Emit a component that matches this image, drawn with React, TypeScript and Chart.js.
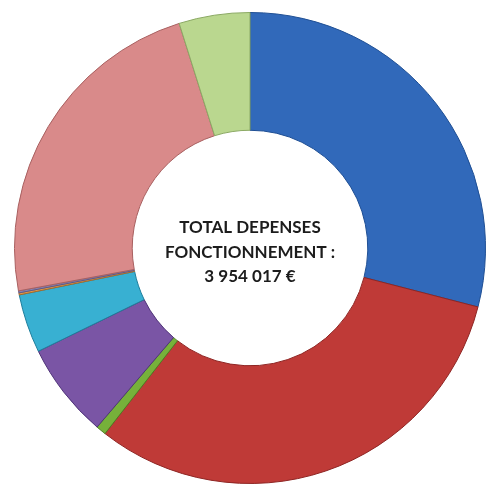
import React, { useEffect, useRef } from "react";
import { Chart, registerables } from "chart.js";

Chart.register(...registerables);

const categories = [
  "Charges de personnel",
  "Charges à caractère général",
  "Atténuations de produits",
  "Autres charges de gestion courante",
  "Charges financières",
  "Charges exceptionnelles",
  "Provisions",
  "Virement à la section d'investissement",
  "Dotations aux amortissements",
];
const values = [1147763, 1246614, 27458, 258109, 159259, 5492, 5492, 911620, 192209];
const colors = ["#3169BA", "#BF3A37", "#76B13A", "#7A55A5", "#38B0D2", "#E39A4B", "#8C86B4", "#D98A8A", "#BAD78F"];
const borders = ["#1F4F94", "#8E2523", "#4E7F22", "#4F3478", "#1F7E9C", "#A56A2A", "#5E5888", "#A86060", "#8BA964"];
const centerLines = ["TOTAL DEPENSES", "FONCTIONNEMENT :", "3 954 017 €"];

const centerText = {
  id: "centerText",
  afterDraw(chart: any) {
    const ctx = chart.ctx;
    const meta = chart.getDatasetMeta(0);
    const arc = meta.data[0];
    const x = arc.x;
    const y = arc.y;
    ctx.save();
    ctx.fillStyle = "#1c1c1c";
    ctx.font = "bold 17px Lato, 'Open Sans', sans-serif";
    ctx.textAlign = "center";
    ctx.textBaseline = "middle";
    const lh = 24.5;
    centerLines.forEach((l, i) => {
      ctx.fillText(l, x, y - 20 + i * lh);
    });
    ctx.restore();
  },
};

export default function App() {
  const ref = useRef<HTMLCanvasElement>(null);
  useEffect(() => {
    if (!ref.current) return;
    const chart = new Chart(ref.current, {
      type: "doughnut",
      data: {
        labels: categories,
        datasets: [
          {
            data: values,
            backgroundColor: colors,
            borderColor: borders,
            borderWidth: 1,
          },
        ],
      },
      options: {
        responsive: false,
        animation: false,
        cutout: "50%",
        layout: { padding: { left: 14, right: 5, top: 12, bottom: 5 } },
        plugins: {
          legend: { display: false },
          tooltip: { enabled: false },
        },
      },
      plugins: [centerText],
    });
    return () => chart.destroy();
  }, []);
  return (
    <div style={{ position: "absolute", left: 0, top: 0, width: 491, height: 489, background: "#fff" }}>
      <canvas ref={ref} width={491} height={489} style={{ width: 491, height: 489 }} />
    </div>
  );
}
